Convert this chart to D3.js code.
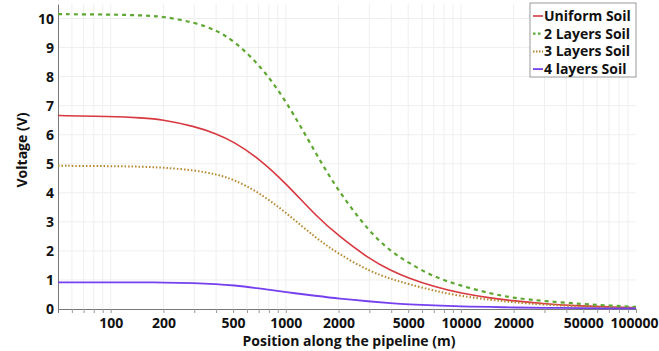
<!DOCTYPE html>
<html>
<head>
<meta charset="utf-8">
<script src="https://cdn.jsdelivr.net/npm/d3@7"></script>
<style>
  body { margin: 0; background: #fff; }
  text { font-family: "Open Sans", Lato, sans-serif; font-weight: bold; fill: #111; }
</style>
</head>
<body>
<div id="chart"></div>
<script>
// positions along the pipeline (m)
const positions = [50, 100, 150, 200, 300, 400, 500, 700, 1000, 1500, 2000, 3000, 4000, 5000, 7000, 10000, 15000, 20000, 30000, 50000, 70000, 100000];
const uniformSoil = [6.66, 6.63, 6.58, 6.52, 6.29, 6.04, 5.77, 5.19, 4.33, 3.18, 2.52, 1.72, 1.32, 1.07, 0.77, 0.54, 0.37, 0.28, 0.18, 0.1, 0.07, 0.05];
const twoLayers = [10.15, 10.14, 10.11, 10.07, 9.87, 9.6, 9.25, 8.45, 7.2, 5.3, 4.05, 2.65, 1.97, 1.6, 1.1, 0.8, 0.52, 0.38, 0.27, 0.17, 0.12, 0.07];
const threeLayers = [4.93, 4.92, 4.9, 4.87, 4.78, 4.64, 4.47, 4.02, 3.33, 2.42, 1.9, 1.3, 1.03, 0.86, 0.63, 0.44, 0.31, 0.23, 0.15, 0.08, 0.05, 0.03];
const fourLayers = [0.92, 0.92, 0.92, 0.91, 0.89, 0.86, 0.82, 0.71, 0.58, 0.45, 0.36, 0.26, 0.2, 0.16, 0.12, 0.09, 0.07, 0.05, 0.04, 0.03, 0.02, 0.02];

const seriesNames = ["Uniform Soil", "2 Layers Soil", "3 Layers Soil", "4 layers Soil"];
const xTickValues = [100, 200, 500, 1000, 2000, 5000, 10000, 20000, 50000, 100000];
const yTickValues = [0, 1, 2, 3, 4, 5, 6, 7, 8, 9, 10];

const width = 659, height = 351;
const margin = { top: 4, right: 23, bottom: 42, left: 58 };

const svg = d3.select("#chart").append("svg")
  .attr("width", width)
  .attr("height", height);

const x = d3.scaleLog().domain([50, 100000]).range([margin.left, width - margin.right]);
const y = d3.scaleLinear().domain([0, 10.5]).range([height - margin.bottom, margin.top]);

// minor log ticks for the grid
const minorTicks = x.ticks().filter(d => d > 50);

// grid
svg.append("g").selectAll("line.vg")
  .data(minorTicks.filter(d => d < 100000))
  .join("line")
  .attr("x1", d => x(d)).attr("x2", d => x(d))
  .attr("y1", y.range()[0]).attr("y2", y.range()[1])
  .attr("stroke", "#efefef");

svg.append("g").selectAll("line.hg")
  .data(yTickValues.filter(d => d > 0))
  .join("line")
  .attr("x1", x.range()[0]).attr("x2", x.range()[1])
  .attr("y1", d => y(d)).attr("y2", d => y(d))
  .attr("stroke", "#efefef");

// axes
const xAxis = d3.axisBottom(x)
  .tickValues(minorTicks)
  .tickSize(4)
  .tickFormat(d => xTickValues.includes(d) ? d : "");

const gx = svg.append("g")
  .attr("transform", `translate(0,${y(0)})`)
  .call(xAxis);
gx.select(".domain").attr("stroke", "#777");
gx.selectAll(".tick line").attr("stroke", "#999");
gx.selectAll(".tick text").attr("font-size", 14).attr("dy", "0.85em").attr("fill", "#111");
// last label sits at the right edge: keep it inside the picture
gx.selectAll(".tick text").filter(d => d === 100000)
  .attr("text-anchor", "end")
  .attr("dx", width - 1 - x(100000));

const gy = svg.append("g")
  .attr("transform", `translate(${margin.left},0)`)
  .call(d3.axisLeft(y).tickValues(yTickValues).tickSize(0).tickPadding(4));
gy.select(".domain").attr("stroke", "#777");
gy.selectAll(".tick text").attr("font-size", 14).attr("fill", "#111");

// axis titles
svg.append("text")
  .attr("x", (x.range()[0] + x.range()[1]) / 2 + 2)
  .attr("y", 346)
  .attr("text-anchor", "middle")
  .attr("font-size", 14)
  .text("Position along the pipeline (m)");

svg.append("text")
  .attr("transform", `translate(27,150) rotate(-90)`)
  .attr("text-anchor", "middle")
  .attr("font-size", 14)
  .text("Voltage (V)");

// lines
const styles = [
  { values: uniformSoil, color: "#d8383f", dash: null, w: 1.6 },
  { values: twoLayers, color: "#5ea832", dash: "4,4", w: 2.2 },
  { values: threeLayers, color: "#b8862f", dash: "1.5,2", w: 2 },
  { values: fourLayers, color: "#7640ee", dash: null, w: 1.8 }
];

const line = d3.line()
  .x(d => x(d[0]))
  .y(d => y(d[1]))
  .curve(d3.curveBasis);

svg.append("g").selectAll("path")
  .data(styles)
  .join("path")
  .attr("d", s => line(positions.map((p, i) => [p, s.values[i]])))
  .attr("fill", "none")
  .attr("stroke", s => s.color)
  .attr("stroke-width", s => s.w)
  .attr("stroke-dasharray", s => s.dash);

// legend
const legend = svg.append("g").attr("transform", "translate(530,3)");
legend.append("rect")
  .attr("width", 106).attr("height", 74)
  .attr("fill", "#fff")
  .attr("stroke", "#999");

const items = legend.selectAll("g.item")
  .data(styles)
  .join("g")
  .attr("transform", (d, i) => `translate(0,${13 + i * 17.7})`);

items.append("line")
  .attr("x1", 3).attr("x2", 13)
  .attr("stroke", d => d.color)
  .attr("stroke-width", d => d.w)
  .attr("stroke-dasharray", d => d.dash ? (d.dash === "4,4" ? "2.5,2.5" : "1.5,1.5") : null);

items.append("text")
  .attr("x", 14)
  .attr("dy", "0.35em")
  .attr("font-size", 14)
  .text((d, i) => seriesNames[i]);
</script>
</body>
</html>
